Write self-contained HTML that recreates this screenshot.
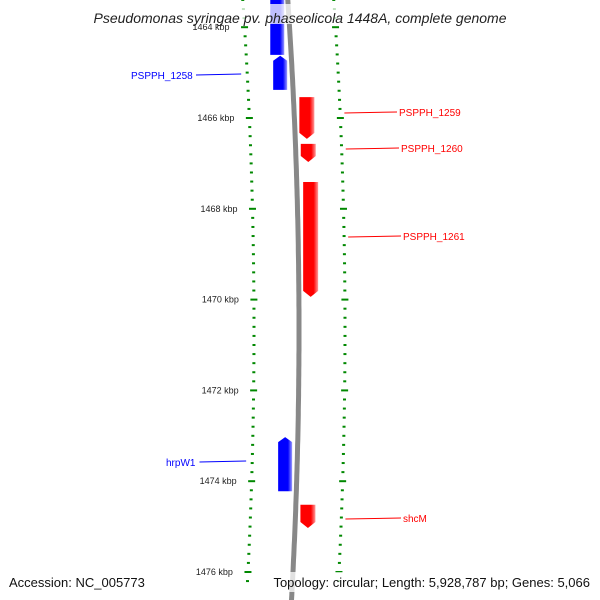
<!DOCTYPE html>
<html><head><meta charset="utf-8"><style>
html,body{margin:0;padding:0;background:#fff;}
svg{display:block;font-family:"Liberation Sans",sans-serif;}
</style></head><body>
<svg id="map" width="600" height="600" viewBox="0 0 600 600">
<defs>
<linearGradient id="gb" x1="0" x2="1"><stop offset="0" stop-color="#0000ff"/><stop offset="0.7" stop-color="#0000ff"/><stop offset="1" stop-color="#9999ff"/></linearGradient>
<linearGradient id="gr" x1="0" x2="1"><stop offset="0" stop-color="#ff0000"/><stop offset="0.7" stop-color="#ff0000"/><stop offset="1" stop-color="#ff9999"/></linearGradient>
<linearGradient id="gbb" x1="0" x2="1"><stop offset="0" stop-color="#666"/><stop offset="0.5" stop-color="#999"/><stop offset="1" stop-color="#666"/></linearGradient>
</defs>
<g id="layer"></g>
</svg>
<script>
const tickKbp = [1464,1466,1468,1470,1472,1474,1476];
const geneNames = ["", "PSPPH_1258","PSPPH_1259","PSPPH_1260","PSPPH_1261","hrpW1","shcM"];
const geneStart = [1463.2,1464.63,1465.54,1466.57,1467.41,1473.03,1474.52];
const geneEnd   = [1464.61,1465.38,1466.46,1466.97,1469.94,1474.22,1475.03];
const geneStrand= [-1,-1,1,1,1,-1,1];
const labelPos = [null,[131,79],[399,116],[401,152],[403,240],[166,466],[403,522]];

const NS="http://www.w3.org/2000/svg";
const g=document.getElementById('layer');
function yOf(k){return 118+(k-1466)*45.4;}
function bend(y){return (y-330)*(y-330)/9700;}
function bx(y){return 299-bend(y);}
function mk(t,a){const e=document.createElementNS(NS,t);for(const k in a)e.setAttribute(k,a[k]);g.appendChild(e);return e;}

// backbone
let d="";
for(let y=-5;y<=605;y+=5){d+=(y===-5?"M":"L")+bx(y).toFixed(1)+","+y;}
const bb=mk('path',{d:d,stroke:'#888',"stroke-width":5,fill:'none'});



// ticks
for(let k=1463.4;k<=1476.4;k+=0.2){
  const kr=Math.round(k*10)/10;
  const y=yOf(kr);
  const major=Math.abs(kr-Math.round(kr))<0.01 && Math.round(kr)%2===0;
  const lx=254-bend(y), rx=345-bend(y);
  const w=major?7:3;
  const t1=mk('rect',{x:lx-w/2,y:y-1,width:w,height:2,fill:'#080'});
  
  
  const t2=mk('rect',{x:rx-w/2,y:y-1,width:w,height:2,fill:'#080'});
  
  
}
tickKbp.forEach(k=>{
  const y=yOf(k);
  const t=mk('text',{x:239-bend(y),y:y+3,"font-size":9,"text-anchor":"end",fill:'#222'});
  t.textContent=k+" kbp";
  
  
});

// genes
geneStart.forEach((s,i)=>{
  const y1=yOf(s), y2=yOf(geneEnd[i]), st=geneStrand[i];
  const ym=(y1+y2)/2, b=bx(ym);
  const x1=st<0?b-19:b+5, x2=st<0?b-5:b+20, xm=(x1+x2)/2;
  let p;
  if(st<0){ p = i===0 ? `M${x1},${y1}L${x2},${y1}L${x2},${y2}L${x1},${y2}Z`
      : `M${xm},${y1}L${x2},${y1+5}L${x2},${y2}L${x1},${y2}L${x1},${y1+5}Z`; }
  else { p=`M${x1},${y1}L${x2},${y1}L${x2},${y2-6}L${xm},${y2}L${x1},${y2-6}Z`; }
  const e=mk('path',{d:p,fill:st<0?'url(#gb)':'url(#gr)'});
  
  
  if(labelPos[i]){
    const c=st<0?'#0000ff':'#ff0000';
    const [lx,ly]=labelPos[i];
    const l=st<0?mk('line',{x1:lx+(st<0?geneNames[i].length*6.3:0)+2,y1:ly-4,x2:x1-32,y2:ly-5,stroke:c,"stroke-width":1}):
      mk('line',{x1:lx-2,y1:ly-4,x2:x2+30,y2:ly-3,stroke:c,"stroke-width":1});
    
    
    const t=mk('text',{x:lx,y:ly,"font-size":10,fill:c});
    t.textContent=geneNames[i];
    
    
  }
});

// title & footer
const r1=mk('rect',{x:70,y:4,width:460,height:20,fill:'#fff',"fill-opacity":0.75});


const tt=mk('text',{x:300,y:23,"font-size":14,"font-style":"italic","text-anchor":"middle",fill:'#222'});
tt.textContent="Pseudomonas syringae pv. phaseolicola 1448A, complete genome";


const r2=mk('rect',{x:258,y:572,width:336,height:20,fill:'#fff',"fill-opacity":0.75});


const f1=mk('text',{x:9,y:587,"font-size":13,fill:'#111'});
f1.textContent="Accession: NC_005773";


const f2=mk('text',{x:590,y:587,"font-size":13,"text-anchor":"end",fill:'#111'});
f2.textContent="Topology: circular; Length: 5,928,787 bp; Genes: 5,066";


</script>
</body></html>
